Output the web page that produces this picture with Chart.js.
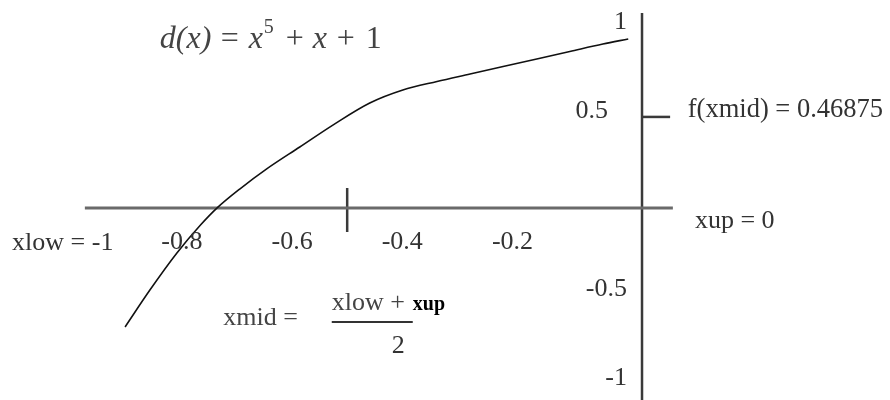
<!DOCTYPE html>
<html><head><meta charset="utf-8">
<script src="https://cdn.jsdelivr.net/npm/chart.js@4"></script>
<style>html,body{margin:0;padding:0;background:#fff}#wrap{width:890px;height:400px;position:relative}</style>
</head><body><div id="wrap"><canvas id="c"></canvas></div>
<script>
// Curve d(x) as drawn in the picture
const curveX = [-0.903, -0.858, -0.809, -0.767, -0.736, -0.695, -0.646, -0.586, -0.526, -0.459, -0.399, -0.337, -0.277, -0.217, -0.156, -0.096, -0.036, 0.010];
const curveY = [-0.710, -0.503, -0.295, -0.141, -0.042, 0.064, 0.177, 0.300, 0.423, 0.547, 0.620, 0.668, 0.710, 0.752, 0.794, 0.836, 0.878, 0.906];

// Tick labels
const xTickValues = [-0.8, -0.6, -0.4, -0.2];
const xTickLabels = ['-0.8', '-0.6', '-0.4', '-0.2'];
const yTickValues = [1, 0.5, -0.5, -1];
const yTickLabels = ['1', '0.5', '-0.5', '-1'];

// Bisection values
const xLow = -1;
const xUp = 0;
const xMid = -0.5;
const fXmid = 0.46875;

// Where the hand-drawn axes sit in data space
const hAxisY = -0.042, hAxisFrom = -0.976, hAxisTo = 0.091;
const vAxisX = 0.035, vAxisFrom = 1.052, vAxisTo = -1.13;
const xmidTickTop = 0.07, xmidTickBottom = -0.177;
const fTickTo = 0.086;

const curveData = curveX.map((x, i) => ({x, y: curveY[i]}));

const SERIF = '"Liberation Serif", "DejaVu Serif", serif';

const textPlugin = {
  id: 'texts',
  afterDatasetsDraw(chart) {
    const {ctx} = chart;
    const sx = chart.scales.x, sy = chart.scales.y;
    const px = v => sx.getPixelForValue(v), py = v => sy.getPixelForValue(v);
    ctx.save();
    ctx.fillStyle = '#333';
    ctx.font = '26px ' + SERIF;
    ctx.textBaseline = 'alphabetic';

    // x tick labels below the horizontal axis
    ctx.textAlign = 'center';
    xTickValues.forEach((v, i) => ctx.fillText(xTickLabels[i], px(v), py(hAxisY) + 41));

    // y tick labels left of the vertical axis
    ctx.textAlign = 'right';
    ctx.textBaseline = 'middle';
    yTickValues.forEach((v, i) => {
      const gap = yTickLabels[i] === '0.5' ? 34 : 15;
      ctx.fillText(yTickLabels[i], px(vAxisX) - gap, py(v));
    });

    ctx.textBaseline = 'alphabetic';
    ctx.textAlign = 'left';
    // xlow / xup labels
    ctx.fillText('xlow = ' + xLow, px(-1.108), py(-0.278));
    ctx.fillText('xup = ' + xUp, px(0.131), py(-0.155));
    // f(xmid)
    ctx.font = '26.5px ' + SERIF;
    ctx.fillText('f(xmid) = ' + fXmid, px(0.118), py(0.468));

    // xmid = (xlow + xup) / 2
    ctx.font = '26px ' + SERIF;
    ctx.fillStyle = '#444';
    ctx.fillText('xmid =', px(-0.725), py(-0.699));
    ctx.fillText('xlow +', px(-0.528), py(-0.615));
    ctx.fillStyle = '#000';
    ctx.font = 'bold 20px ' + SERIF;
    ctx.fillText('xup', px(-0.381), py(-0.615));
    ctx.fillStyle = '#333';
    ctx.font = '26px ' + SERIF;
    ctx.fillText('2', px(-0.419), py(-0.856));
    ctx.strokeStyle = '#333';
    ctx.lineWidth = 2;
    ctx.beginPath();
    ctx.moveTo(px(-0.528), py(-0.682));
    ctx.lineTo(px(-0.381), py(-0.682));
    ctx.stroke();

    // title formula d(x) = x^5 + x + 1 (spaced like the original equation)
    ctx.fillStyle = '#444';
    const x0 = px(-0.840);
    const by = py(0.856);
    const parts = [
      {t: 'd(x)', f: 'italic 32px ', dx: 0},
      {t: '=', f: '32px ', dx: 61},
      {t: 'x', f: 'italic 32px ', dx: 89},
      {t: '5', f: '20px ', dx: 104, up: 15},
      {t: '+', f: '32px ', dx: 126},
      {t: 'x', f: 'italic 32px ', dx: 153},
      {t: '+', f: '32px ', dx: 177},
      {t: '1', f: '32px ', dx: 206}
    ];
    parts.forEach(p => {
      ctx.font = p.f + SERIF;
      ctx.fillText(p.t, x0 + p.dx, by - (p.up || 0));
    });
    ctx.restore();
  }
};

new Chart(document.getElementById('c'), {
  type: 'scatter',
  data: {
    datasets: [
      {label: 'd(x)', data: curveData, showLine: true, borderColor: '#111', borderWidth: 1.6, pointRadius: 0, cubicInterpolationMode: 'monotone', clip: false},
      {label: 'x axis', data: [{x: hAxisFrom, y: hAxisY}, {x: hAxisTo, y: hAxisY}], showLine: true, borderColor: '#6a6a6a', borderWidth: 3, pointRadius: 0, clip: false},
      {label: 'y axis', data: [{x: vAxisX, y: vAxisFrom}, {x: vAxisX, y: vAxisTo}], showLine: true, borderColor: '#3a3a3a', borderWidth: 2.5, pointRadius: 0, clip: false},
      {label: 'xmid', data: [{x: xMid, y: xmidTickTop}, {x: xMid, y: xmidTickBottom}], showLine: true, borderColor: '#3a3a3a', borderWidth: 2.5, pointRadius: 0, clip: false},
      {label: 'f(xmid)', data: [{x: vAxisX, y: fXmid}, {x: fTickTo, y: fXmid}], showLine: true, borderColor: '#3a3a3a', borderWidth: 2.5, pointRadius: 0, clip: false}
    ]
  },
  options: {
    responsive: true,
    maintainAspectRatio: false,
    animation: false,
    layout: {padding: 0},
    plugins: {legend: {display: false}, tooltip: {enabled: false}},
    scales: {
      x: {type: 'linear', min: -1.13, max: 0.485, display: false},
      y: {type: 'linear', min: -1.12, max: 1.125, display: false}
    }
  },
  plugins: [textPlugin]
});
</script>
</body></html>
